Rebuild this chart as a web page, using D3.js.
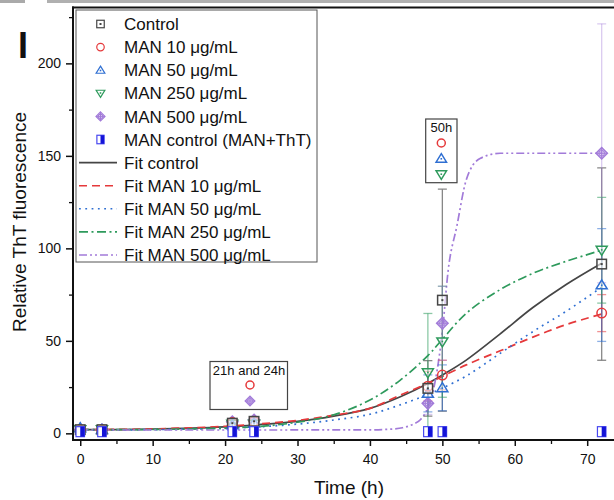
<!DOCTYPE html>
<html><head><meta charset="utf-8">
<script src="https://cdn.jsdelivr.net/npm/d3@7"></script>
<style>
body{margin:0;background:#fff}
svg{display:block}
text{font-family:"Liberation Sans",Arial,Helvetica,sans-serif;fill:#111}
</style></head>
<body><svg id="c" width="614" height="500"></svg>
<script>
// ---------- data ----------
const times = [0, 3, 21, 24, 48, 50, 72];
const controlVals = [2, 2, 5.5, 6.5, 24.3, 72, 91.5];
const controlErr  = [1, 1, 1.5, 2, 15, 60, 52];
const man10Vals   = [2, 2, 5.8, 6.6, 25.5, 31.5, 65];
const man10Err    = [1, 1, 1.5, 1.5, 8, 8, 10];
const man50Vals   = [3, 2, 4.5, 5.5, 21.6, 24.6, 80.2];
const man50Err    = [1, 1, 1, 1.5, 10, 12.4, 30.5];
const man250Vals  = [2, 2, 5, 5, 32.8, 49.5, 99];
const man250Err   = [1, 1, 1, 1, 32, 30, 28.6];
const man500Vals  = [2, 2, 6.3, 7.2, 16.2, 59.5, 151.4];
const man500Err   = [1, 1, 1.5, 1.5, 6, 20, 70];
const manCtrlVals = [0.9, 0.9, 0.9, 0.9, 0.9, 0.9, 0.9];

const fitControl = [[0,2],[10,2.3],[20,3.5],[25,4.8],[30,6.5],[35,9.3],[40,13.5],[44.2,19.8],[48,27],[50,31.5],[53.3,39.6],[57.9,53.5],[62.5,68],[67.1,80.5],[72,92]];
const fitMan10   = [[0,2],[10,2.4],[20,3.8],[25,5.2],[30,7],[35,9.8],[40,13.5],[44.2,20.7],[48,27],[49.9,30.6],[53.3,37],[57.9,44.5],[62.5,52],[67.1,58.8],[72,64.5]];
const fitMan50   = [[0,1.9],[10,2],[20,2.8],[25,3.6],[30,5],[35,7.2],[40,10.3],[44.1,15.3],[48,21],[49.9,24.3],[53.3,31],[57.9,43],[62.5,55],[67.1,66],[72,79]];
const fitMan250  = [[0,2],[10,2.1],[20,2.8],[25,3.8],[30,6],[35,10],[40,18],[44.2,28.8],[48,42],[49.9,50.4],[53.3,64.9],[57.9,77.5],[62.5,86.5],[67.1,93],[72,99]];
const fitMan500  = [[0,1.8],[20,1.8],[40,1.9],[43,2.3],[44.5,3],[46,5],[47,7.5],[48,14],[49,28],[50,55],[50.8,88],[52,112],[53.3,137],[55.2,148.6],[58,151.4],[72,151.4]];

const xTicks = [0,10,20,30,40,50,60,70];
const xMinor = [5,15,25,35,45,55,65];
const yTicks = [0,50,100,150,200];
const yMinor = [25,75,125,175,225];

const seriesNames = ["Control","MAN 10 μg/mL","MAN 50 μg/mL","MAN 250 μg/mL","MAN 500 μg/mL","MAN control (MAN+ThT)"];
const fitNames = ["Fit control","Fit MAN 10 μg/mL","Fit MAN 50 μg/mL","Fit MAN 250 μg/mL","Fit MAN 500 μg/mL"];

// ---------- styles ----------
const C = {ctrl:"#454545", red:"#e5393b", blue:"#2f6fd2", green:"#2e9a5c", purple:"#a27bd9", mc:"#1414d8"};

const series = [
  {vals:controlVals, err:controlErr, sym:"sq",   col:C.ctrl,   ecol:"#7a7a7a", eop:0.9},
  {vals:man10Vals,   err:man10Err,   sym:"circ", col:C.red,    ecol:C.red,    eop:0.55},
  {vals:man50Vals,   err:man50Err,   sym:"tri",  col:C.blue,   ecol:C.blue,   eop:0.55},
  {vals:man250Vals,  err:man250Err,  sym:"tdn",  col:C.green,  ecol:C.green,  eop:0.55},
  {vals:man500Vals,  err:man500Err,  sym:"dia",  col:C.purple, ecol:C.purple, eop:0.4},
];
const fits = [
  {pts:fitControl, col:C.ctrl,   dash:null, curve:d3.curveCatmullRom.alpha(0.5)},
  {pts:fitMan10,   col:C.red,    dash:"8,5", curve:d3.curveCatmullRom.alpha(0.5)},
  {pts:fitMan50,   col:C.blue,   dash:"1.8,4.5", curve:d3.curveCatmullRom.alpha(0.5)},
  {pts:fitMan250,  col:C.green,  dash:"9,3.5,2,3.5", curve:d3.curveCatmullRom.alpha(0.5)},
  {pts:fitMan500,  col:C.purple, dash:"8,3,2,3,2,3", curve:d3.curveMonotoneX},
];

const svg = d3.select("#c");
const x = d3.scaleLinear().domain([-1, 73.7]).range([73, 614]);
const y = d3.scaleLinear().domain([-3.6, 230.2]).range([440, 7.5]);

// faint strip at top (cropped neighbour panel)
svg.append("rect").attr("x",0).attr("y",0).attr("width",25).attr("height",3).attr("fill","#aaa");
svg.append("rect").attr("x",47).attr("y",0).attr("width",567).attr("height",3).attr("fill","#b0b0b0");

svg.append("defs").append("clipPath").attr("id","clip")
  .append("rect").attr("x",73).attr("y",7.5).attr("width",541).attr("height",432.5);

// ---------- symbols ----------
function drawSym(g, type, col, s, sw) {
  sw = sw || 1.5;
  if (type === "sq") {
    g.append("rect").attr("x",-s/2).attr("y",-s/2).attr("width",s).attr("height",s)
      .attr("fill","#fff").attr("fill-opacity",0.6).attr("stroke",col).attr("stroke-width",sw);
    g.append("rect").attr("x",-1).attr("y",-1).attr("width",2).attr("height",2).attr("fill",col);
  } else if (type === "circ") {
    g.append("circle").attr("r",s/2).attr("fill","none").attr("stroke",col).attr("stroke-width",sw);
  } else if (type === "tri") {
    const h = s*0.9;
    g.append("path").attr("d",`M0,${-h*0.6}L${s*0.58},${h*0.45}L${-s*0.58},${h*0.45}Z`)
      .attr("fill","#fff").attr("fill-opacity",0.5).attr("stroke",col).attr("stroke-width",sw);
    g.append("rect").attr("x",-0.8).attr("y",-0.5).attr("width",1.6).attr("height",1.6).attr("fill",col);
  } else if (type === "tdn") {
    const h = s*0.9;
    g.append("path").attr("d",`M0,${h*0.6}L${s*0.58},${-h*0.45}L${-s*0.58},${-h*0.45}Z`)
      .attr("fill","#fff").attr("fill-opacity",0.5).attr("stroke",col).attr("stroke-width",sw);
    g.append("rect").attr("x",-0.8).attr("y",-1.1).attr("width",1.6).attr("height",1.6).attr("fill",col);
  } else if (type === "dia") {
    const r = s*0.6;
    g.append("path").attr("d",`M0,${-r}L${r},0L0,${r}L${-r},0Z`)
      .attr("fill",col).attr("fill-opacity",0.35).attr("stroke",col).attr("stroke-width",sw);
    g.append("circle").attr("r",r*0.5).attr("fill","none").attr("stroke",col).attr("stroke-width",1);
    g.append("path").attr("d",`M${-r},0H${r}M0,${-r}V${r}`).attr("stroke",col).attr("stroke-width",1);
  } else if (type === "half") {
    const w = s*0.85, hh = s;
    g.append("rect").attr("x",-w/2).attr("y",-hh/2).attr("width",w).attr("height",hh)
      .attr("fill","#fff").attr("stroke","#4848f0").attr("stroke-width",1.2);
    g.append("rect").attr("x",0).attr("y",-hh/2).attr("width",w/2).attr("height",hh).attr("fill",C.mc);
  }
}

// ---------- plot ----------
const plot = svg.append("g").attr("clip-path","url(#clip)");

fits.forEach(f => {
  const line = d3.line().x(d=>x(d[0])).y(d=>y(d[1])).curve(f.curve);
  plot.append("path").attr("d", line(f.pts)).attr("fill","none")
    .attr("stroke", f.col).attr("stroke-width",1.7)
    .attr("stroke-dasharray", f.dash);
});

// error bars
series.forEach(s => {
  times.forEach((t,i) => {
    const e = s.err[i]; if (!e) return;
    const xx = x(t), y1 = y(s.vals[i]-e), y2 = y(s.vals[i]+e);
    const g = plot.append("g").attr("stroke", s.ecol).attr("stroke-opacity", s.eop).attr("stroke-width",1.3);
    g.append("line").attr("x1",xx).attr("x2",xx).attr("y1",y1).attr("y2",y2);
    g.append("line").attr("x1",xx-4.5).attr("x2",xx+4.5).attr("y1",y1).attr("y2",y1);
    g.append("line").attr("x1",xx-4.5).attr("x2",xx+4.5).attr("y1",y2).attr("y2",y2);
  });
});

// series points
[4,3,2,1,0].forEach(k => {
  const s = series[k];
  times.forEach((t,i) => {
    drawSym(plot.append("g").attr("transform",`translate(${x(t)},${y(s.vals[i])})`), s.sym, s.col, 9.5);
  });
});
// MAN control on top
times.forEach((t,i) => {
  drawSym(plot.append("g").attr("transform",`translate(${x(t)},${y(manCtrlVals[i])})`), "half", C.mc, 10);
});

// ---------- axes ----------
const fontTick = 14;
const xAxis = svg.append("g").attr("transform","translate(0,440)")
  .call(d3.axisBottom(x).tickValues(xTicks).tickSize(6).tickSizeOuter(0).tickPadding(8));
xAxis.select(".domain").remove();
xAxis.selectAll(".tick line").attr("stroke","#111").attr("stroke-width",1.5);
xAxis.selectAll("text").attr("font-size",fontTick).attr("fill","#111")
  .style("font-family","'Liberation Sans',Arial,sans-serif");
const xAxisMin = svg.append("g").attr("transform","translate(0,440)")
  .call(d3.axisBottom(x).tickValues(xMinor).tickSize(4).tickSizeOuter(0).tickFormat(""));
xAxisMin.select(".domain").remove();
xAxisMin.selectAll(".tick line").attr("stroke","#111").attr("stroke-width",1.3);

const yAxis = svg.append("g").attr("transform","translate(73,0)")
  .call(d3.axisLeft(y).tickValues(yTicks).tickSize(7).tickSizeOuter(0).tickPadding(5));
yAxis.select(".domain").remove();
yAxis.selectAll(".tick line").attr("stroke","#111").attr("stroke-width",1.5);
yAxis.selectAll("text").attr("font-size",fontTick).attr("fill","#111")
  .style("font-family","'Liberation Sans',Arial,sans-serif");
const yAxisMin = svg.append("g").attr("transform","translate(73,0)")
  .call(d3.axisLeft(y).tickValues(yMinor).tickSize(4).tickSizeOuter(0).tickFormat(""));
yAxisMin.select(".domain").remove();
yAxisMin.selectAll(".tick line").attr("stroke","#111").attr("stroke-width",1.3);

// frame lines
svg.append("line").attr("x1",73).attr("x2",73).attr("y1",6.5).attr("y2",441).attr("stroke","#111").attr("stroke-width",2);
svg.append("line").attr("x1",72).attr("x2",614).attr("y1",440).attr("y2",440).attr("stroke","#111").attr("stroke-width",2);
svg.append("line").attr("x1",72).attr("x2",614).attr("y1",7.5).attr("y2",7.5).attr("stroke","#111").attr("stroke-width",2);

// axis titles
svg.append("text").attr("x",349).attr("y",494).attr("text-anchor","middle")
  .attr("font-size",19).text("Time (h)");
svg.append("text").attr("transform","translate(25.5,222) rotate(-90)").attr("text-anchor","middle")
  .attr("font-size",18).attr("textLength",220).attr("lengthAdjust","spacingAndGlyphs")
  .text("Relative ThT fluorescence");

// panel letter
svg.append("text").attr("x",18).attr("y",58).attr("font-size",36).attr("font-weight","bold").text("I");

// ---------- legend ----------
const lg = svg.append("g");
lg.append("rect").attr("x",76).attr("y",10).attr("width",241).attr("height",252)
  .attr("fill","#fff").attr("stroke","#555").attr("stroke-width",1);
const rowY = i => 24 + i*23.1;
const legSyms = ["sq","circ","tri","tdn","dia","half"];
const legCols = [C.ctrl,C.red,C.blue,C.green,C.purple,C.mc];
seriesNames.forEach((n,i) => {
  const g = lg.append("g").attr("transform",`translate(100.5,${rowY(i)})`);
  drawSym(g, legSyms[i], legCols[i], i===5 ? 8.5 : 7.5, 1.2);
  lg.append("text").attr("x",124).attr("y",rowY(i)).attr("dy","0.36em").attr("font-size",17).text(n);
});
fitNames.forEach((n,j) => {
  const i = j + 6;
  const f = fits[j];
  lg.append("line").attr("x1",79).attr("x2",117).attr("y1",rowY(i)).attr("y2",rowY(i))
    .attr("stroke",f.col).attr("stroke-width",1.6).attr("stroke-dasharray",f.dash);
  lg.append("text").attr("x",124).attr("y",rowY(i)).attr("dy","0.36em").attr("font-size",17).text(n);
});

// ---------- inset boxes ----------
const b1 = svg.append("g");
b1.append("rect").attr("x",210).attr("y",361.5).attr("width",77.5).attr("height",48)
  .attr("fill","#fff").attr("stroke","#444").attr("stroke-width",1.2);
b1.append("text").attr("x",249).attr("y",374.5).attr("text-anchor","middle").attr("font-size",13).text("21h and 24h");
drawSym(b1.append("g").attr("transform","translate(250,385)"), "circ", C.red, 8, 1.5);
drawSym(b1.append("g").attr("transform","translate(250,401)"), "dia", C.purple, 8, 1.3);

const b2 = svg.append("g");
b2.append("rect").attr("x",425.7).attr("y",119).attr("width",31.3).attr("height",63.7)
  .attr("fill","#fff").attr("stroke","#444").attr("stroke-width",1.2);
b2.append("text").attr("x",441.3).attr("y",132).attr("text-anchor","middle").attr("font-size",13).text("50h");
drawSym(b2.append("g").attr("transform","translate(441.3,143)"), "circ", C.red, 8, 1.5);
drawSym(b2.append("g").attr("transform","translate(441.3,158.5)"), "tri", C.blue, 9, 1.5);
drawSym(b2.append("g").attr("transform","translate(441.3,174.5)"), "tdn", C.green, 9, 1.5);
</script>
</body></html>
